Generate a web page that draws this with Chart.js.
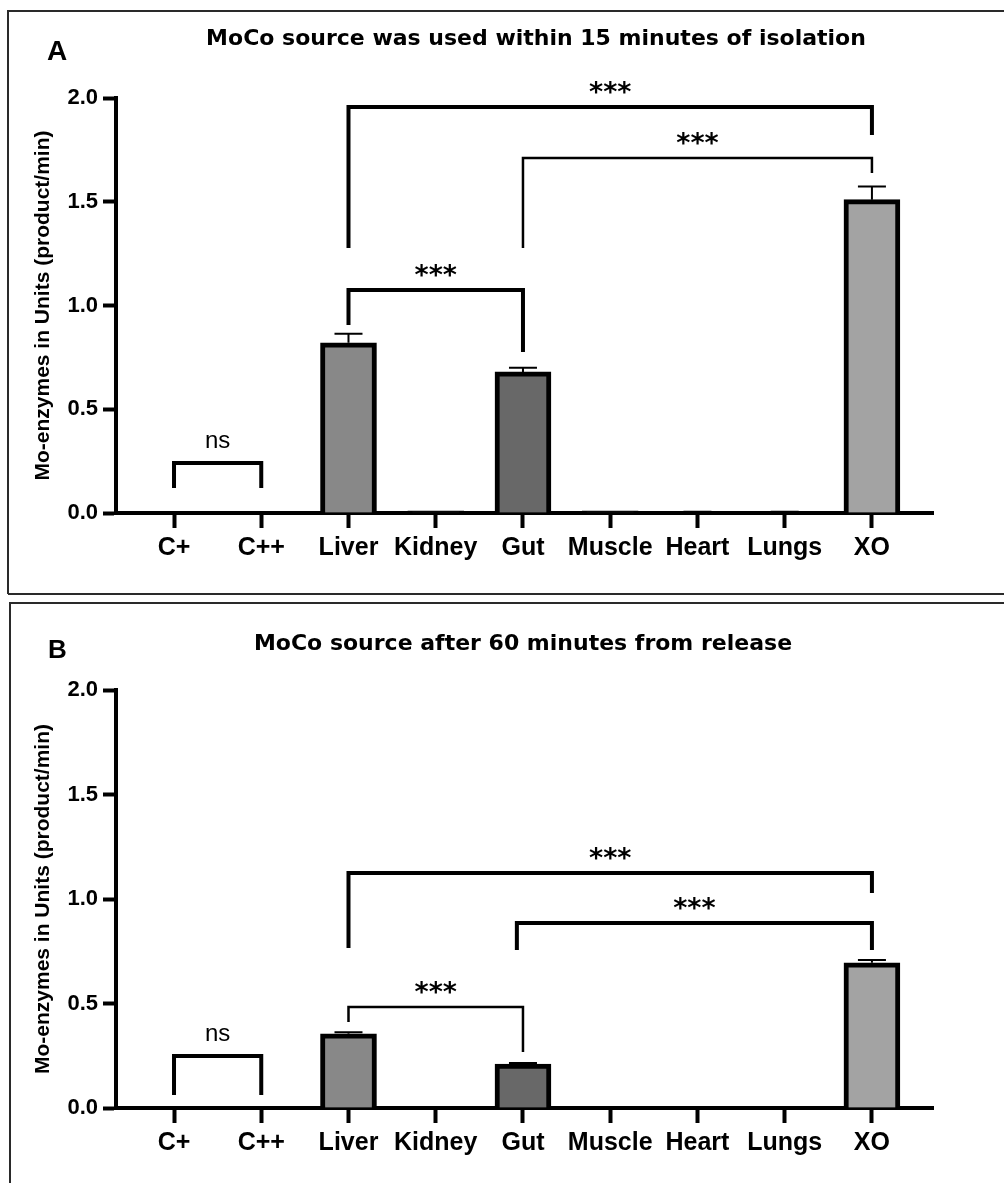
<!DOCTYPE html>
<html>
<head>
<meta charset="utf-8">
<script src="https://cdn.jsdelivr.net/npm/chart.js@4.4.1/dist/chart.umd.min.js"></script>
<style>
  html, body { margin: 0; padding: 0; background: #fff; }
  #wrapA { position: absolute; left: 0; top: 0; width: 1004px; height: 597px; }
  #wrapB { position: absolute; left: 0; top: 597px; width: 1004px; height: 586px; }
</style>
</head>
<body>
<div id="wrapA"><canvas id="chartA"></canvas></div>
<div id="wrapB"><canvas id="chartB"></canvas></div>
<script>
// categories and tick labels
var categories = ['C+', 'C++', 'Liver', 'Kidney', 'Gut', 'Muscle', 'Heart', 'Lungs', 'XO'];
var yTicks = [0, 0.5, 1.0, 1.5, 2.0];

// panel A: within 15 minutes of isolation
var valuesA = [0, 0, 0.82, 0.01, 0.68, 0.01, 0, 0, 1.51];
var errorsA = [0, 0, 0.044, 0, 0.02, 0, 0.006, 0.006, 0.063];

// panel B: after 60 minutes from release
var valuesB = [0, 0, 0.355, 0, 0.21, 0, 0, 0, 0.695];
var errorsB = [0, 0, 0.008, 0, 0.005, 0, 0, 0, 0.013];

// significance brackets: from/to category index, bar height, left/right leg ends
var bracketsA = [
  { from: 0, to: 1, y: 0.241, left: 0.12, right: 0.12, text: 'ns', thin: false },
  { from: 2, to: 4, y: 1.075, left: 0.906, right: 0.776, text: '***', thin: false },
  { from: 2, to: 8, y: 1.957, left: 1.277, right: 1.822, text: '***', thin: false },
  { from: 4, to: 8, y: 1.711, left: 1.277, right: 1.639, text: '***', thin: true }
];
var bracketsB = [
  { from: 0, to: 1, y: 0.249, left: 0.062, right: 0.062, text: 'ns', thin: false },
  { from: 2, to: 4, y: 0.483, left: 0.411, right: 0.268, text: '***', thin: true },
  { from: 2, to: 8, y: 1.124, left: 0.766, right: 1.029, text: '***', thin: false },
  { from: 3.93, to: 8, y: 0.885, left: 0.756, right: 0.756, text: '***', thin: false }
];

var barFill = ['#888888', '#888888', '#888888', '#111111', '#686868', '#111111', '#111111', '#111111', '#a3a3a3'];
var FONT = '"Liberation Sans", Arial, sans-serif';

function panelPlugin(p) {
  return {
    id: 'panel' + p.letter,
    beforeDraw: function (chart) {
      var ctx = chart.ctx;
      ctx.save();
      ctx.strokeStyle = '#2a2a2a';
      ctx.lineWidth = 2;
      ctx.beginPath();
      ctx.moveTo(p.frameX, p.frameBottom);
      ctx.lineTo(p.frameX, p.frameTop);
      ctx.lineTo(1004, p.frameTop);
      if (p.frameBottom < chart.height) {
        ctx.moveTo(p.frameX, p.frameBottom);
        ctx.lineTo(1004, p.frameBottom);
      }
      ctx.stroke();
      ctx.restore();
    },
    afterDatasetsDraw: function (chart) {
      var ctx = chart.ctx;
      var xs = chart.scales.x, ys = chart.scales.y;
      var area = chart.chartArea;
      ctx.save();

      // error bars
      ctx.strokeStyle = '#000';
      ctx.lineWidth = 2;
      for (var i = 0; i < p.values.length; i++) {
        if (!p.errors[i]) continue;
        var x = xs.getPixelForValue(i);
        var y0 = ys.getPixelForValue(p.values[i]);
        var y1 = ys.getPixelForValue(p.values[i] + p.errors[i]);
        ctx.beginPath();
        ctx.moveTo(x, y0);
        ctx.lineTo(x, y1);
        ctx.moveTo(x - 14, y1);
        ctx.lineTo(x + 14, y1);
        ctx.stroke();
      }

      // brackets
      p.brackets.forEach(function (b) {
        var x1 = xs.getPixelForValue(b.from), x2 = xs.getPixelForValue(b.to);
        var yb = ys.getPixelForValue(b.y);
        ctx.lineWidth = b.thin ? 2.5 : 4;
        ctx.lineJoin = 'miter';
        ctx.beginPath();
        ctx.moveTo(x1, ys.getPixelForValue(b.left));
        ctx.lineTo(x1, yb);
        ctx.lineTo(x2, yb);
        ctx.lineTo(x2, ys.getPixelForValue(b.right));
        ctx.stroke();
        ctx.fillStyle = '#000';
        ctx.textAlign = 'center';
        ctx.textBaseline = 'alphabetic';
        var mx = (x1 + x2) / 2;
        if (b.text === 'ns') {
          ctx.font = 'normal 24px ' + FONT;
          ctx.fillText(b.text, mx, yb - 15);
        } else {
          ctx.font = 'bold 27px "DejaVu Sans", sans-serif';
          ctx.fillText(b.text, mx, yb - 6);
        }
      });

      // title, panel letter, y axis title
      ctx.fillStyle = '#000';
      ctx.textAlign = 'center';
      ctx.textBaseline = 'alphabetic';
      ctx.font = 'bold 22px "DejaVu Sans", sans-serif';
      ctx.fillText(p.title, p.titleX, p.titleY);
      ctx.textAlign = 'left';
      ctx.font = 'bold ' + p.letterSize + 'px ' + FONT;
      ctx.fillText(p.letter, p.letterX, p.letterY);

      ctx.translate(43, (area.top + area.bottom) / 2);
      ctx.rotate(-Math.PI / 2);
      ctx.textAlign = 'center';
      ctx.textBaseline = 'middle';
      ctx.font = 'bold 21px ' + FONT;
      ctx.fillText('Mo-enzymes in Units (product/min)', 0, 0);
      ctx.restore();
    }
  };
}

function makePanel(id, p) {
  var ctx = document.getElementById(id).getContext('2d');
  return new Chart(ctx, {
    type: 'bar',
    data: {
      datasets: [{
        data: p.values.map(function (v, i) { return { x: i, y: v }; }),
        backgroundColor: barFill,
        borderColor: '#000',
        borderWidth: 5,
        barThickness: 56
      }]
    },
    options: {
      responsive: true,
      maintainAspectRatio: false,
      animation: false,
      layout: { padding: { top: p.top, right: 71, bottom: 0, left: 0 } },
      plugins: { legend: { display: false }, title: { display: false }, tooltip: { enabled: false } },
      scales: {
        x: {
          type: 'linear',
          offset: false,
          bounds: 'data',
          min: -0.665,
          max: 8.70,
          afterBuildTicks: function (s) {
            s.ticks = categories.map(function (_, i) { return { value: i }; });
          },
          afterFit: function (s) { s.height = p.xHeight; },
          ticks: {
            autoSkip: false,
            maxRotation: 0,
            padding: 5,
            color: '#000',
            font: { family: FONT, size: 25, weight: 'bold' },
            callback: function (v) { return categories[v]; }
          },
          grid: { offset: false, drawOnChartArea: false, tickLength: 15, tickWidth: 4, tickColor: '#000' },
          border: { display: true, width: 4, color: '#000' }
        },
        y: {
          min: 0,
          max: 2,
          afterBuildTicks: function (s) {
            s.ticks = yTicks.map(function (v) { return { value: v }; });
          },
          afterFit: function (s) { s.width = 116; },
          ticks: {
            padding: 5,
            color: '#000',
            font: { family: FONT, size: 22, weight: 'bold' },
            callback: function (v) { return v.toFixed(1); }
          },
          grid: { drawOnChartArea: false, tickLength: 13, tickWidth: 4, tickColor: '#000' },
          border: { display: true, width: 4, color: '#000' }
        }
      }
    },
    plugins: [panelPlugin(p)]
  });
}

makePanel('chartA', {
  letter: 'A', letterSize: 28, letterX: 47, letterY: 60,
  title: 'MoCo source was used within 15 minutes of isolation', titleX: 536, titleY: 45,
  values: valuesA, errors: errorsA, brackets: bracketsA,
  top: 98, xHeight: 84,
  frameX: 8, frameTop: 11, frameBottom: 594
});

makePanel('chartB', {
  letter: 'B', letterSize: 26, letterX: 48, letterY: 61,
  title: 'MoCo source after 60 minutes from release', titleX: 523, titleY: 53,
  values: valuesB, errors: errorsB, brackets: bracketsB,
  top: 93, xHeight: 75,
  frameX: 10, frameTop: 6, frameBottom: 999
});
</script>
</body>
</html>
